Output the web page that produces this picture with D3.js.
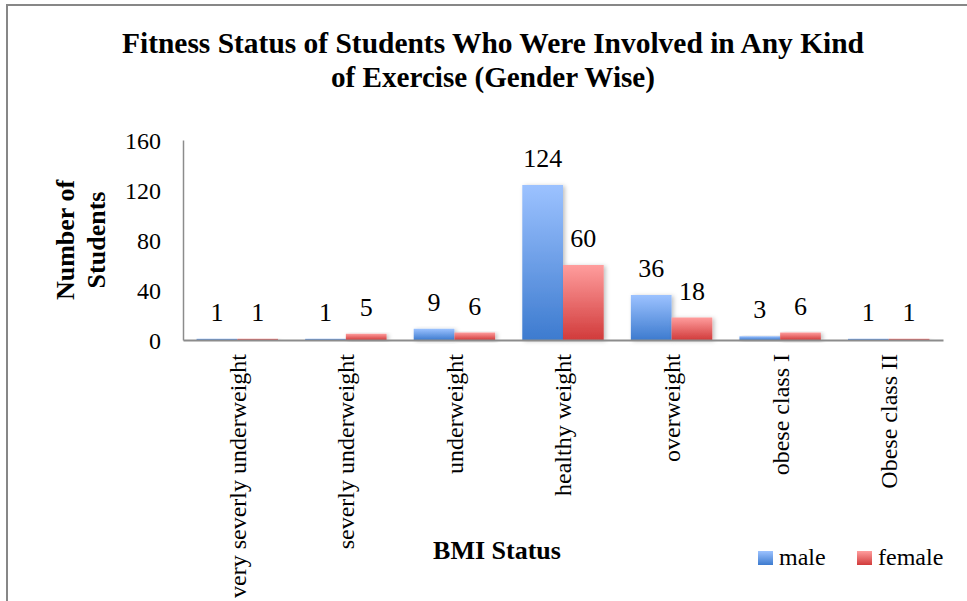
<!DOCTYPE html>
<html>
<head>
<meta charset="utf-8">
<script src="https://cdn.jsdelivr.net/npm/d3@7"></script>
<style>
  html, body { margin: 0; padding: 0; background: #fff; }
  svg text { font-family: "Liberation Serif", "Times New Roman", serif; }
</style>
</head>
<body>
<svg id="chart" width="967" height="601"></svg>
<script>
// BMI categories and counts per gender
const categories = ["very severly underweight", "severly underweight", "underweight",
  "healthy weight", "overweight", "obese class I", "Obese class II"];
const seriesNames = ["male", "female"];
const maleValues = [1, 1, 9, 124, 36, 3, 1];
const femaleValues = [1, 5, 6, 60, 18, 6, 1];
const yTicks = [0, 40, 80, 120, 160];

const svg = d3.select("#chart");
const W = 967, H = 601;
const plot = { left: 183, right: 943, top: 140, bottom: 340 };

// outer chart frame
svg.append("rect").attr("x", 7).attr("y", 5).attr("width", W + 10).attr("height", H + 10)
  .attr("fill", "none").attr("stroke", "#878787").attr("stroke-width", 2);

// gradients for bars and legend swatches
const defs = svg.append("defs");
const grads = { male: ["#9cc2ff", "#3d7bcf"], female: ["#ff9d9d", "#d13b3b"] };
Object.entries(grads).forEach(([k, [top, bot]]) => {
  const g = defs.append("linearGradient").attr("id", "g-" + k)
    .attr("x1", 0).attr("y1", 0).attr("x2", 0).attr("y2", 1);
  g.append("stop").attr("offset", "0%").attr("stop-color", top);
  g.append("stop").attr("offset", "100%").attr("stop-color", bot);
});
const sh = defs.append("filter").attr("id", "shadow")
  .attr("x", "-20%").attr("y", "-20%").attr("width", "150%").attr("height", "150%");
sh.append("feDropShadow").attr("dx", 2).attr("dy", 1).attr("stdDeviation", 2)
  .attr("flood-color", "#000").attr("flood-opacity", 0.25);

// scales
const x0 = d3.scaleBand().domain(categories).range([plot.left, plot.right])
  .paddingInner(0.25).paddingOuter(0.125);
const x1 = d3.scaleBand().domain(seriesNames).range([0, x0.bandwidth()]);
const y = d3.scaleLinear().domain([0, 160]).range([plot.bottom, plot.top]);

// title
const title = svg.append("text").attr("text-anchor", "middle")
  .attr("font-weight", "bold").attr("font-size", 30).attr("fill", "#000");
title.append("tspan").attr("x", 493).attr("y", 53)
  .attr("textLength", 742).attr("lengthAdjust", "spacingAndGlyphs")
  .text("Fitness Status of Students Who Were Involved in Any Kind");
title.append("tspan").attr("x", 493).attr("y", 87)
  .attr("textLength", 324).attr("lengthAdjust", "spacingAndGlyphs")
  .text("of Exercise (Gender Wise)");

// y axis
const yAxis = d3.axisLeft(y).tickValues(yTicks).tickSize(0).tickPadding(22);
const gy = svg.append("g").attr("transform", `translate(${plot.left},0)`).call(yAxis);
gy.select(".domain").attr("stroke", "#8c8c8c").attr("stroke-width", 1.5);
gy.selectAll("text").attr("font-size", 24).attr("fill", "#000").attr("dy", "0.35em");

// bars
const data = categories.map((c, i) => ({ cat: c, vals: [
  { key: "male", v: maleValues[i] }, { key: "female", v: femaleValues[i] }] }));

const groups = svg.append("g").selectAll("g").data(data).join("g")
  .attr("transform", d => `translate(${x0(d.cat)},0)`);
groups.selectAll("rect").data(d => d.vals).join("rect")
  .attr("x", d => x1(d.key)).attr("width", x1.bandwidth())
  .attr("y", d => y(d.v)).attr("height", d => y(0) - y(d.v))
  .attr("fill", d => `url(#g-${d.key})`).attr("filter", "url(#shadow)");
groups.selectAll("text").data(d => d.vals).join("text")
  .attr("x", d => x1(d.key) + x1.bandwidth() / 2)
  .attr("y", d => y(d.v) - 18)
  .attr("text-anchor", "middle").attr("font-size", 26).attr("fill", "#000")
  .text(d => d.v);

// x axis
const xAxis = d3.axisBottom(x0).tickSize(0).tickPadding(0);
const gx = svg.append("g").attr("transform", `translate(0,${plot.bottom})`).call(xAxis);
gx.select(".domain").attr("stroke", "#8c8c8c").attr("stroke-width", 2);
gx.selectAll("text").attr("font-size", 24).attr("fill", "#000").attr("text-anchor", "end")
  .attr("transform", "translate(0,14) rotate(-90)")
  .attr("x", 0).attr("y", 0).attr("dy", "0.35em");

// axis titles
svg.append("text").attr("transform", "translate(65,240) rotate(-90)")
  .attr("text-anchor", "middle").attr("font-weight", "bold").attr("font-size", 26)
  .attr("dy", "0.35em").text("Number of");
svg.append("text").attr("transform", "translate(96,240) rotate(-90)")
  .attr("text-anchor", "middle").attr("font-weight", "bold").attr("font-size", 26)
  .attr("dy", "0.35em").text("Students");
svg.append("text").attr("x", 497).attr("y", 559)
  .attr("text-anchor", "middle").attr("font-weight", "bold").attr("font-size", 26)
  .text("BMI Status");

// legend
const legendX = [758, 857];
const leg = svg.append("g").selectAll("g").data(seriesNames).join("g")
  .attr("transform", (d, i) => `translate(${legendX[i]},551)`);
leg.append("rect").attr("width", 15).attr("height", 14).attr("fill", d => `url(#g-${d})`);
leg.append("text").attr("x", 21).attr("y", 14).attr("font-size", 24).text(d => d);
</script>
</body>
</html>
